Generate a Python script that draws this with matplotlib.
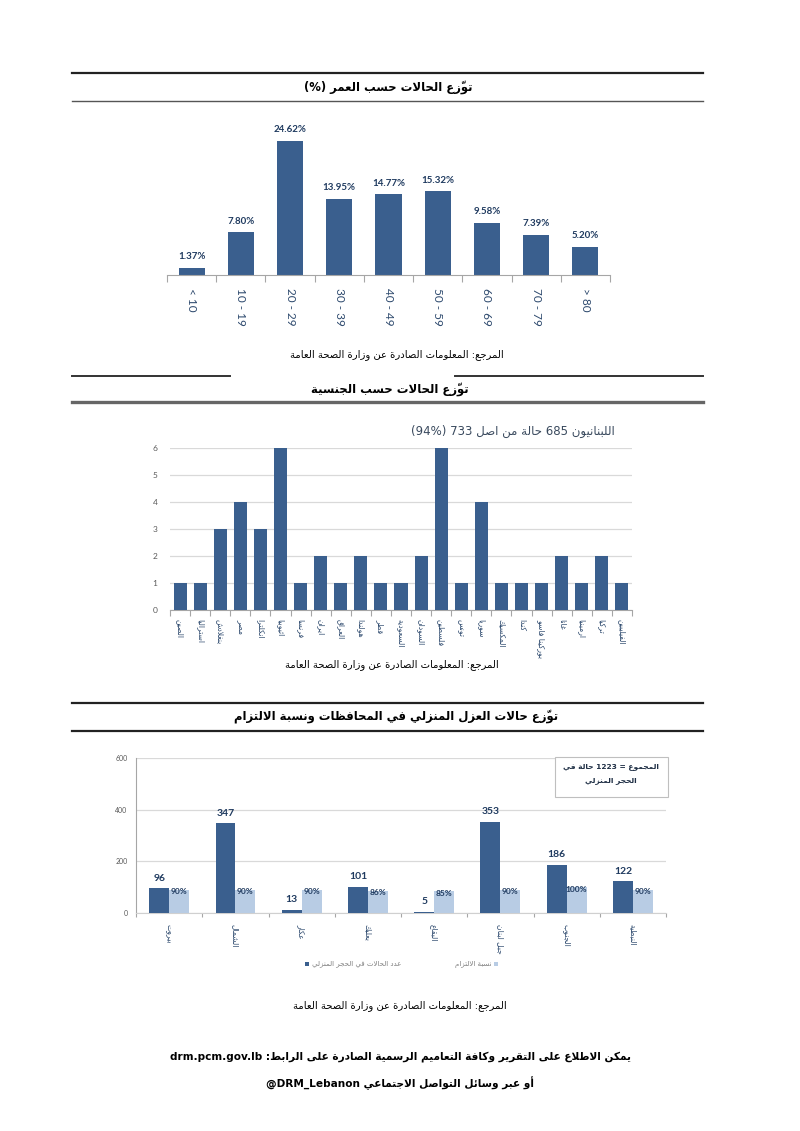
import matplotlib
matplotlib.use('Agg')
import matplotlib.pyplot as plt
from matplotlib.patches import Rectangle
from matplotlib.lines import Line2D
import numpy as np

# ---------------- data ----------------
age_groups = ['< 10', '10 - 19', '20 - 29', '30 - 39', '40 - 49', '50 - 59', '60 - 69', '70 - 79', '> 80']
age_pct = [1.37, 7.80, 24.62, 13.95, 14.77, 15.32, 9.58, 7.39, 5.20]

nationalities = ['الصين', 'استراليا', 'بنغلادش', 'مصر', 'انكلترا', 'اثيوبيا', 'فرنسا', 'ايران',
                 'العراق', 'هولندا', 'قطر', 'السعودية', 'السودان', 'فلسطين', 'تونس', 'سوريا',
                 'المكسيك', 'كندا', 'بوركينا فاسو', 'غانا', 'ارمينيا', 'تركيا', 'الفيليبين']
nat_cases = [1, 1, 3, 4, 3, 6, 1, 2, 1, 2, 1, 1, 2, 6, 1, 4, 1, 1, 1, 2, 1, 2, 1]
nat_yticks = [0, 1, 2, 3, 4, 5, 6]

governorates = ['بيروت', 'الشمال', 'عكار', 'بعلبك', 'البقاع', 'جبل لبنان', 'الجنوب', 'النبطية']
home_cases = [96, 347, 13, 101, 5, 353, 186, 122]
compliance = [90, 90, 90, 86, 85, 90, 100, 90]
home_yticks = [0, 200, 400, 600]

title1 = 'توزّع الحالات حسب العمر (%)'
title2 = 'توزّع الحالات حسب الجنسية'
title3 = 'توزّع حالات العزل المنزلي في المحافظات ونسبة الالتزام'
source = 'المرجع: المعلومات الصادرة عن وزارة الصحة العامة'
note2 = 'اللبنانيون 685 حالة من اصل 733 (94%)'
box_l1 = 'المجموع = 1223 حالة في'
box_l2 = 'الحجر المنزلي'
leg1 = 'عدد الحالات في الحجر المنزلي'
leg2 = 'نسبة الالتزام'
foot1 = 'يمكن الاطلاع على التقرير وكافة التعاميم الرسمية الصادرة على الرابط: drm.pcm.gov.lb'
foot2 = 'أو عبر وسائل التواصل الاجتماعي @DRM_Lebanon'

# ---------------- minimal Arabic shaping (presentation forms) ----------------
_AR = {
    0x0621: (0xFE80, 0), 0x0622: (0xFE81, 1), 0x0623: (0xFE83, 1), 0x0624: (0xFE85, 1),
    0x0625: (0xFE87, 1), 0x0626: (0xFE89, 2), 0x0627: (0xFE8D, 1), 0x0628: (0xFE8F, 2),
    0x0629: (0xFE93, 1), 0x062A: (0xFE95, 2), 0x062B: (0xFE99, 2), 0x062C: (0xFE9D, 2),
    0x062D: (0xFEA1, 2), 0x062E: (0xFEA5, 2), 0x062F: (0xFEA9, 1), 0x0630: (0xFEAB, 1),
    0x0631: (0xFEAD, 1), 0x0632: (0xFEAF, 1), 0x0633: (0xFEB1, 2), 0x0634: (0xFEB5, 2),
    0x0635: (0xFEB9, 2), 0x0636: (0xFEBD, 2), 0x0637: (0xFEC1, 2), 0x0638: (0xFEC5, 2),
    0x0639: (0xFEC9, 2), 0x063A: (0xFECD, 2), 0x0641: (0xFED1, 2), 0x0642: (0xFED5, 2),
    0x0643: (0xFED9, 2), 0x0644: (0xFEDD, 2), 0x0645: (0xFEE1, 2), 0x0646: (0xFEE5, 2),
    0x0647: (0xFEE9, 2), 0x0648: (0xFEED, 1), 0x0649: (0xFEEF, 1), 0x064A: (0xFEF1, 2),
}
_LAMALEF = {0x0622: 0xFEF5, 0x0623: 0xFEF7, 0x0625: 0xFEF9, 0x0627: 0xFEFB}


def _is_mark(c):
    o = ord(c)
    return 0x064B <= o <= 0x0652 or o == 0x0670


def _has_ar(s):
    return any(0x0600 <= ord(c) <= 0x06FF for c in s)


def _shape_word(w):
    chars = list(w)
    n = len(chars)
    out = []
    prev_joins = False
    i = 0
    while i < n:
        c = chars[i]
        o = ord(c)
        if o not in _AR:
            if _is_mark(c) and out:
                out[-1] += c
            else:
                out.append(c)
                prev_joins = False
            i += 1
            continue
        base, typ = _AR[o]
        k = i + 1
        while k < n and _is_mark(chars[k]):
            k += 1
        nc = chars[k] if k < n else None
        if o == 0x0644 and nc is not None and ord(nc) in _LAMALEF:
            g = _LAMALEF[ord(nc)] + (1 if prev_joins else 0)
            out.append(chr(g) + ''.join(chars[i + 1:k]))
            prev_joins = False
            i = k + 1
            continue
        join_next = typ == 2 and nc is not None and ord(nc) in _AR and ord(nc) != 0x0621
        if typ == 0:
            form = 0
        elif prev_joins and join_next:
            form = 3
        elif prev_joins:
            form = 1
        elif join_next:
            form = 2
        else:
            form = 0
        out.append(chr(base + form))
        prev_joins = join_next
        i += 1
    return ''.join(reversed(out))


def ar(s):
    toks = s.split(' ')
    vis = [_shape_word(t) if _has_ar(t) else t for t in toks]
    return ' '.join(reversed(vis))


# ---------------- figure ----------------
W, H = 800, 1131
fig = plt.figure(figsize=(W / 100, H / 100), dpi=100)
AR_FONT = 'DejaVu Sans'
NUM_FONT = ['Lato', 'DejaVu Sans']

BAR_DARK = '#3A5F8E'
BAR_LIGHT = '#B8CCE4'
LBL = '#1F3A5F'
GRID = '#D9D9D9'
AXC = '#A6A6A6'


def rect(x0, y0, x1, y1):
    return [x0 / W, 1 - y1 / H, (x1 - x0) / W, (y1 - y0) / H]


def fx(x):
    return x / W


def fy(y):
    return 1 - y / H


def hline(x0, x1, y, lw, color):
    fig.add_artist(Line2D([fx(x0), fx(x1)], [fy(y), fy(y)], lw=lw, color=color,
                          transform=fig.transFigure))


def ftext(x, y, s, size, bold=False, color='black', ha='center', va='center', family=AR_FONT):
    fig.text(fx(x), fy(y), s, fontsize=size, fontweight='bold' if bold else 'normal',
             color=color, ha=ha, va=va, family=family)


# ---------- chart 1 ----------
hline(72, 703, 73, 1.6, '#222222')
hline(72, 703, 101, 1.0, '#555555')
ftext(388, 87, ar(title1), 8.4, bold=True)

ax1 = fig.add_axes(rect(167, 111.4, 610, 275))
x1 = np.arange(len(age_groups))
bars = ax1.bar(x1, age_pct, width=0.53, color=BAR_DARK)
for b, v in zip(bars, age_pct):
    ax1.annotate(f'{v:.2f}%', (b.get_x() + b.get_width() / 2, v), xytext=(0, 5),
                 textcoords='offset points', ha='center', va='bottom', fontsize=7,
                 fontweight='bold', color=LBL, family=NUM_FONT)
ax1.set_xlim(-0.5, len(age_groups) - 0.5)
ax1.set_ylim(0, 30)
ax1.set_yticks([])
for s in ['top', 'right', 'left']:
    ax1.spines[s].set_visible(False)
ax1.spines['bottom'].set_color(AXC)
ax1.spines['bottom'].set_linewidth(0.8)
ax1.set_xticks(x1)
ax1.set_xticklabels(age_groups, rotation=270, fontsize=8.5, color='#2E4A6E', family=NUM_FONT)
ax1.tick_params(axis='x', length=0, pad=9)
ax1.set_xticks(np.arange(-0.5, len(age_groups), 1), minor=True)
ax1.tick_params(axis='x', which='minor', length=5, color=AXC, width=0.8)
ftext(397, 355, ar(source), 7.2)

# ---------- chart 2 ----------
hline(72, 230, 376, 1.4, '#333333')
hline(455, 703, 376, 1.4, '#333333')
hline(72, 703, 402, 2.4, '#666666')
ftext(390, 389, ar(title2), 8.4, bold=True)

ax2 = fig.add_axes(rect(170, 447.7, 632, 609.7))
x2 = np.arange(len(nationalities))
ax2.bar(x2, nat_cases, width=0.65, color=BAR_DARK, zorder=3)
ax2.set_xlim(-0.5, len(nationalities) - 0.5)
ax2.set_ylim(0, 6)
ax2.set_yticks(nat_yticks)
ax2.set_yticklabels([str(v) for v in nat_yticks], fontsize=6, color='#595959', family=NUM_FONT)
ax2.tick_params(axis='y', length=0, pad=9)
ax2.grid(axis='y', color=GRID, lw=0.9, zorder=0)
for s in ['top', 'right', 'left']:
    ax2.spines[s].set_visible(False)
ax2.spines['bottom'].set_color(AXC)
ax2.spines['bottom'].set_linewidth(0.8)
ax2.set_xticks(x2)
ax2.set_xticklabels([ar(n) for n in nationalities], rotation=270, fontsize=5.5,
                    color='#2E4A6E', family=AR_FONT)
ax2.tick_params(axis='x', length=0, pad=7)
ax2.set_xticks(np.arange(-0.5, len(nationalities), 1), minor=True)
ax2.tick_params(axis='x', which='minor', length=4, color=AXC, width=0.8)
ftext(615, 431, ar(note2), 8.5, color='#3A4A5E', ha='right')
ftext(392, 665, ar(source), 7.2)

# ---------- chart 3 ----------
hline(72, 703, 703, 1.6, '#222222')
hline(72, 703, 731, 1.6, '#222222')
ftext(396, 717, ar(title3), 8.4, bold=True)

ax3 = fig.add_axes(rect(136, 758, 666, 913))
x3 = np.arange(len(governorates))
bw = 0.30
b_dark = ax3.bar(x3 - bw / 2, home_cases, width=bw, color=BAR_DARK, zorder=3)
b_light = ax3.bar(x3 + bw / 2, compliance, width=bw, color=BAR_LIGHT, zorder=3)
for b, v in zip(b_dark, home_cases):
    ax3.annotate(str(v), (b.get_x() + b.get_width() / 2, v), xytext=(0, 4),
                 textcoords='offset points', ha='center', va='bottom', fontsize=7.5,
                 fontweight='bold', color=LBL, family=NUM_FONT)
for b, v in zip(b_light, compliance):
    ax3.annotate(f'{v}%', (b.get_x() + b.get_width() / 2, v), xytext=(0, 1),
                 textcoords='offset points', ha='center', va='top', fontsize=6,
                 fontweight='bold', color=LBL, family=NUM_FONT)
ax3.set_xlim(-0.5, len(governorates) - 0.5)
ax3.set_ylim(0, 600)
ax3.set_yticks(home_yticks)
ax3.set_yticklabels([str(v) for v in home_yticks], fontsize=5, color='#595959', family=NUM_FONT)
ax3.tick_params(axis='y', length=0, pad=6)
ax3.grid(axis='y', color=GRID, lw=0.9, zorder=0)
for s in ['top', 'right']:
    ax3.spines[s].set_visible(False)
ax3.spines['left'].set_color(AXC)
ax3.spines['left'].set_linewidth(0.8)
ax3.spines['bottom'].set_color('#D0D0D0')
ax3.spines['bottom'].set_linewidth(0.8)
ax3.set_xticks(x3)
ax3.set_xticklabels([ar(g) for g in governorates], rotation=270, fontsize=5.5,
                    color='#2E4A6E', family=AR_FONT)
ax3.tick_params(axis='x', length=0, pad=8)
ax3.set_xticks(np.arange(-0.5, len(governorates), 1), minor=True)
ax3.tick_params(axis='x', which='minor', length=3, color=AXC, width=0.8)

# text box
fig.add_artist(Rectangle((fx(555), fy(797)), (668 - 555) / W, (797 - 757) / H,
                         transform=fig.transFigure, facecolor='white', edgecolor='#BFBFBF',
                         lw=0.8, zorder=5))
fig.text(fx(611), fy(767), ar(box_l1), fontsize=5.4, fontweight='bold', color='#1F2F45',
         ha='center', va='center', family=AR_FONT, zorder=6)
fig.text(fx(611), fy(781), ar(box_l2), fontsize=5.4, fontweight='bold', color='#1F2F45',
         ha='center', va='center', family=AR_FONT, zorder=6)

# legend
fig.add_artist(Rectangle((fx(305), fy(966)), 4 / W, 4 / H, transform=fig.transFigure,
                         facecolor=BAR_DARK, edgecolor='none'))
ftext(312, 964, ar(leg1), 5, color='#7F7F7F', ha='left')
fig.add_artist(Rectangle((fx(494), fy(966)), 4 / W, 4 / H, transform=fig.transFigure,
                         facecolor=BAR_LIGHT, edgecolor='none'))
ftext(492, 964, ar(leg2), 5, color='#7F7F7F', ha='right')

ftext(400, 1006, ar(source), 7.2)

# ---------- footer ----------
ftext(400, 1057, ar(foot1), 7.6, bold=True)
ftext(400, 1083, ar(foot2), 7.6, bold=True)

fig.savefig('out.png', dpi=100, facecolor='white')
